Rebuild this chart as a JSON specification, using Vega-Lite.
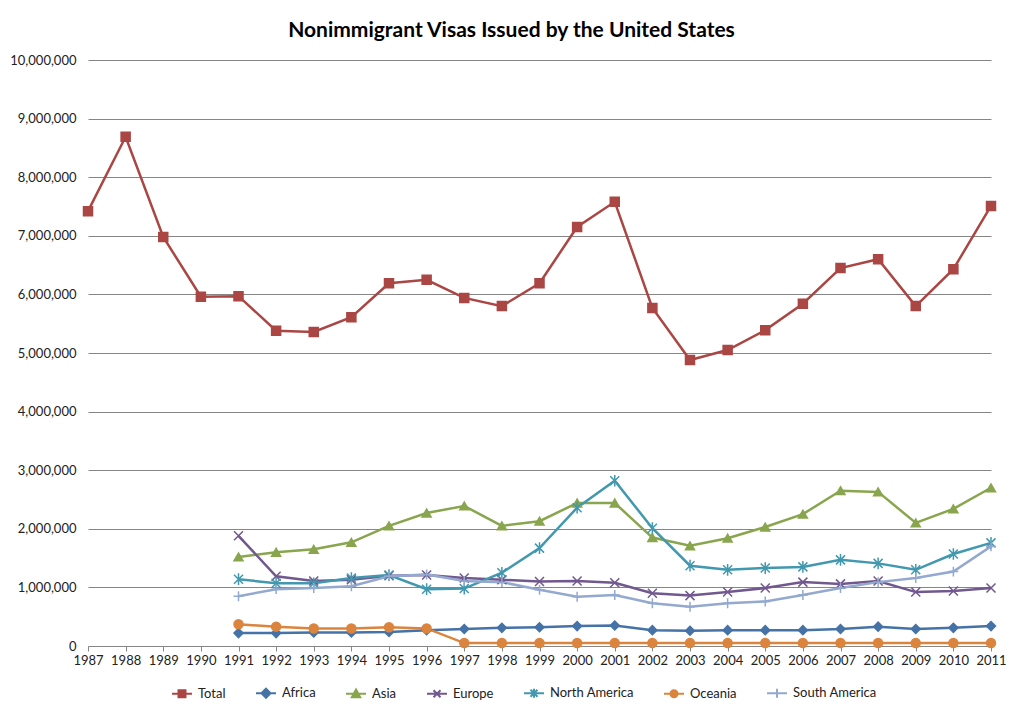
{
  "$schema": "https://vega.github.io/schema/vega-lite/v6.json",
  "autosize": {"type": "none"},
  "width": 903,
  "height": 586,
  "padding": {"left": 88, "top": 60, "right": 32, "bottom": 70},
  "background": "white",
  "title": {"text": "Nonimmigrant Visas Issued by the United States", "font": "Lato", "fontSize": 21, "fontWeight": "bold", "color": "#000000", "offset": 13, "dx": -28, "anchor": "middle"},
  "config": {
    "view": {"stroke": null},
    "axis": {"labelFont": "Lato", "labelFontSize": 13, "labelColor": "#222222", "title": null},
    "legend": {"title": null, "orient": "none", "legendX": 83, "legendY": 622, "direction": "horizontal", "columns": 7, "columnPadding": 26, "labelOffset": 5, "labelFont": "Lato", "labelFontSize": 13, "labelColor": "#222222", "symbolSize": 400, "symbolStrokeWidth": 2, "symbolOpacity": 1}
  },
  "data": {"values": [
    {"year": 1987, "Total": 7420000},
    {"year": 1988, "Total": 8690000},
    {"year": 1989, "Total": 6980000},
    {"year": 1990, "Total": 5960000},
    {"year": 1991, "Total": 5970000, "Africa": 220000, "Asia": 1520000, "Europe": 1880000, "North America": 1140000, "Oceania": 370000, "South America": 850000},
    {"year": 1992, "Total": 5380000, "Africa": 220000, "Asia": 1600000, "Europe": 1190000, "North America": 1070000, "Oceania": 330000, "South America": 970000},
    {"year": 1993, "Total": 5360000, "Africa": 230000, "Asia": 1650000, "Europe": 1110000, "North America": 1070000, "Oceania": 300000, "South America": 990000},
    {"year": 1994, "Total": 5610000, "Africa": 230000, "Asia": 1770000, "Europe": 1130000, "North America": 1160000, "Oceania": 300000, "South America": 1020000},
    {"year": 1995, "Total": 6190000, "Africa": 240000, "Asia": 2050000, "Europe": 1200000, "North America": 1210000, "Oceania": 320000, "South America": 1190000},
    {"year": 1996, "Total": 6250000, "Africa": 270000, "Asia": 2270000, "Europe": 1210000, "North America": 970000, "Oceania": 300000, "South America": 1220000},
    {"year": 1997, "Total": 5940000, "Africa": 290000, "Asia": 2390000, "Europe": 1160000, "North America": 980000, "Oceania": 50000, "South America": 1110000},
    {"year": 1998, "Total": 5800000, "Africa": 310000, "Asia": 2050000, "Europe": 1130000, "North America": 1250000, "Oceania": 50000, "South America": 1090000},
    {"year": 1999, "Total": 6190000, "Africa": 320000, "Asia": 2130000, "Europe": 1100000, "North America": 1670000, "Oceania": 50000, "South America": 960000},
    {"year": 2000, "Total": 7150000, "Africa": 340000, "Asia": 2440000, "Europe": 1110000, "North America": 2360000, "Oceania": 50000, "South America": 840000},
    {"year": 2001, "Total": 7580000, "Africa": 350000, "Asia": 2440000, "Europe": 1080000, "North America": 2820000, "Oceania": 50000, "South America": 870000},
    {"year": 2002, "Total": 5770000, "Africa": 270000, "Asia": 1850000, "Europe": 900000, "North America": 2010000, "Oceania": 50000, "South America": 730000},
    {"year": 2003, "Total": 4880000, "Africa": 260000, "Asia": 1710000, "Europe": 860000, "North America": 1370000, "Oceania": 50000, "South America": 670000},
    {"year": 2004, "Total": 5050000, "Africa": 270000, "Asia": 1840000, "Europe": 920000, "North America": 1300000, "Oceania": 50000, "South America": 730000},
    {"year": 2005, "Total": 5390000, "Africa": 270000, "Asia": 2030000, "Europe": 990000, "North America": 1330000, "Oceania": 50000, "South America": 760000},
    {"year": 2006, "Total": 5840000, "Africa": 270000, "Asia": 2250000, "Europe": 1090000, "North America": 1350000, "Oceania": 50000, "South America": 870000},
    {"year": 2007, "Total": 6450000, "Africa": 290000, "Asia": 2650000, "Europe": 1060000, "North America": 1470000, "Oceania": 50000, "South America": 990000},
    {"year": 2008, "Total": 6600000, "Africa": 330000, "Asia": 2630000, "Europe": 1110000, "North America": 1410000, "Oceania": 50000, "South America": 1090000},
    {"year": 2009, "Total": 5800000, "Africa": 290000, "Asia": 2100000, "Europe": 920000, "North America": 1300000, "Oceania": 50000, "South America": 1160000},
    {"year": 2010, "Total": 6430000, "Africa": 310000, "Asia": 2340000, "Europe": 940000, "North America": 1570000, "Oceania": 50000, "South America": 1270000},
    {"year": 2011, "Total": 7510000, "Africa": 340000, "Asia": 2700000, "Europe": 990000, "North America": 1760000, "Oceania": 50000, "South America": 1700000}
  ]},
  "transform": [
    {"fold": ["Total", "Africa", "Asia", "Europe", "North America", "Oceania", "South America"], "as": ["series", "value"]},
    {"filter": "isValid(datum.value)"}
  ],
  "encoding": {
    "x": {"field": "year", "type": "ordinal", "scale": {"type": "point", "padding": 0},
      "axis": {"labelAngle": 0, "domainColor": "#868686", "tickColor": "#868686", "tickSize": 5, "labelPadding": 3, "grid": false}},
    "y": {"field": "value", "type": "quantitative", "scale": {"domain": [0, 10000000], "nice": false},
      "axis": {"values": [0, 1000000, 2000000, 3000000, 4000000, 5000000, 6000000, 7000000, 8000000, 9000000, 10000000], "labelExpr": "format(datum.value, ',')", "grid": true, "gridColor": "#868686", "gridWidth": 1, "domain": false, "ticks": false, "tickSize": 0, "labelPadding": 12}}
  },
  "resolve": {"scale": {"shape": "independent", "fill": "independent", "stroke": "independent"}, "legend": {"shape": "independent", "fill": "independent", "stroke": "independent"}},
  "layer": [
    {
      "mark": {"type": "line", "strokeWidth": 2.5},
      "encoding": {
        "color": {"field": "series", "type": "nominal", "legend": null,
          "scale": {"domain": ["Total", "Africa", "Asia", "Europe", "North America", "Oceania", "South America"], "range": ["#AA4643", "#4572A7", "#89A54E", "#71588F", "#4198AF", "#DB843D", "#93A9CF"]}},
        "detail": {"field": "series"}
      }
    },
    {
      "mark": {"type": "point", "filled": true, "size": 81, "strokeWidth": 1.5, "opacity": 1},
      "encoding": {
        "fill": {"field": "series", "type": "nominal", "legend": null,
          "scale": {"domain": ["Total", "Africa", "Asia", "Europe", "North America", "Oceania", "South America"], "range": ["#AA4643", "#4572A7", "#89A54E", "#71588F", "#4198AF", "#DB843D", "#93A9CF"]}},
        "stroke": {"field": "series", "type": "nominal", "legend": null,
          "scale": {"domain": ["Total", "Africa", "Asia", "Europe", "North America", "Oceania", "South America"], "range": ["#AA4643", "#4572A7", "#89A54E", "#71588F", "#4198AF", "#DB843D", "#93A9CF"]}},
        "shape": {"field": "series", "type": "nominal", "legend": null,
          "scale": {"domain": ["Total", "Africa", "Asia", "Europe", "North America", "Oceania", "South America"], "range": ["square", "diamond", "triangle-up", "M-1,-1L1,1M-1,1L1,-1", "M-1,-1L1,1M-1,1L1,-1M0,-1.3V1.3", "circle", "M-1.1,0H1.1M0,-1.1V1.1"]}}
      }
    },
    {
      "mark": {"type": "point", "filled": true, "size": 0, "opacity": 1},
      "encoding": {
        "fill": {"field": "series", "type": "nominal",
          "scale": {"domain": ["Total", "Africa", "Asia", "Europe", "North America", "Oceania", "South America"], "range": ["#AA4643", "#4572A7", "#89A54E", "#71588F", "#4198AF", "#DB843D", "#93A9CF"]}},
        "stroke": {"field": "series", "type": "nominal",
          "scale": {"domain": ["Total", "Africa", "Asia", "Europe", "North America", "Oceania", "South America"], "range": ["#AA4643", "#4572A7", "#89A54E", "#71588F", "#4198AF", "#DB843D", "#93A9CF"]}},
        "shape": {"field": "series", "type": "nominal",
          "scale": {"domain": ["Total", "Africa", "Asia", "Europe", "North America", "Oceania", "South America"], "range": ["M-1,0H1M-0.35,-0.35H0.35V0.35H-0.35Z", "M-1,0H1M0,-0.45L0.45,0L0,0.45L-0.45,0Z", "M-1,0H1M0,-0.42L0.42,0.35H-0.42Z", "M-1,0H1M-0.35,-0.35L0.35,0.35M-0.35,0.35L0.35,-0.35", "M-1,0H1M-0.35,-0.35L0.35,0.35M-0.35,0.35L0.35,-0.35M0,-0.45V0.45", "M-1,0H1M0.35,0A0.35,0.35,0,1,1,-0.35,0A0.35,0.35,0,1,1,0.35,0Z", "M-1,0H1M0,-0.45V0.45"]},
          "legend": {"symbolSize": 400, "symbolStrokeWidth": 2}}
      }
    }
  ]
}
